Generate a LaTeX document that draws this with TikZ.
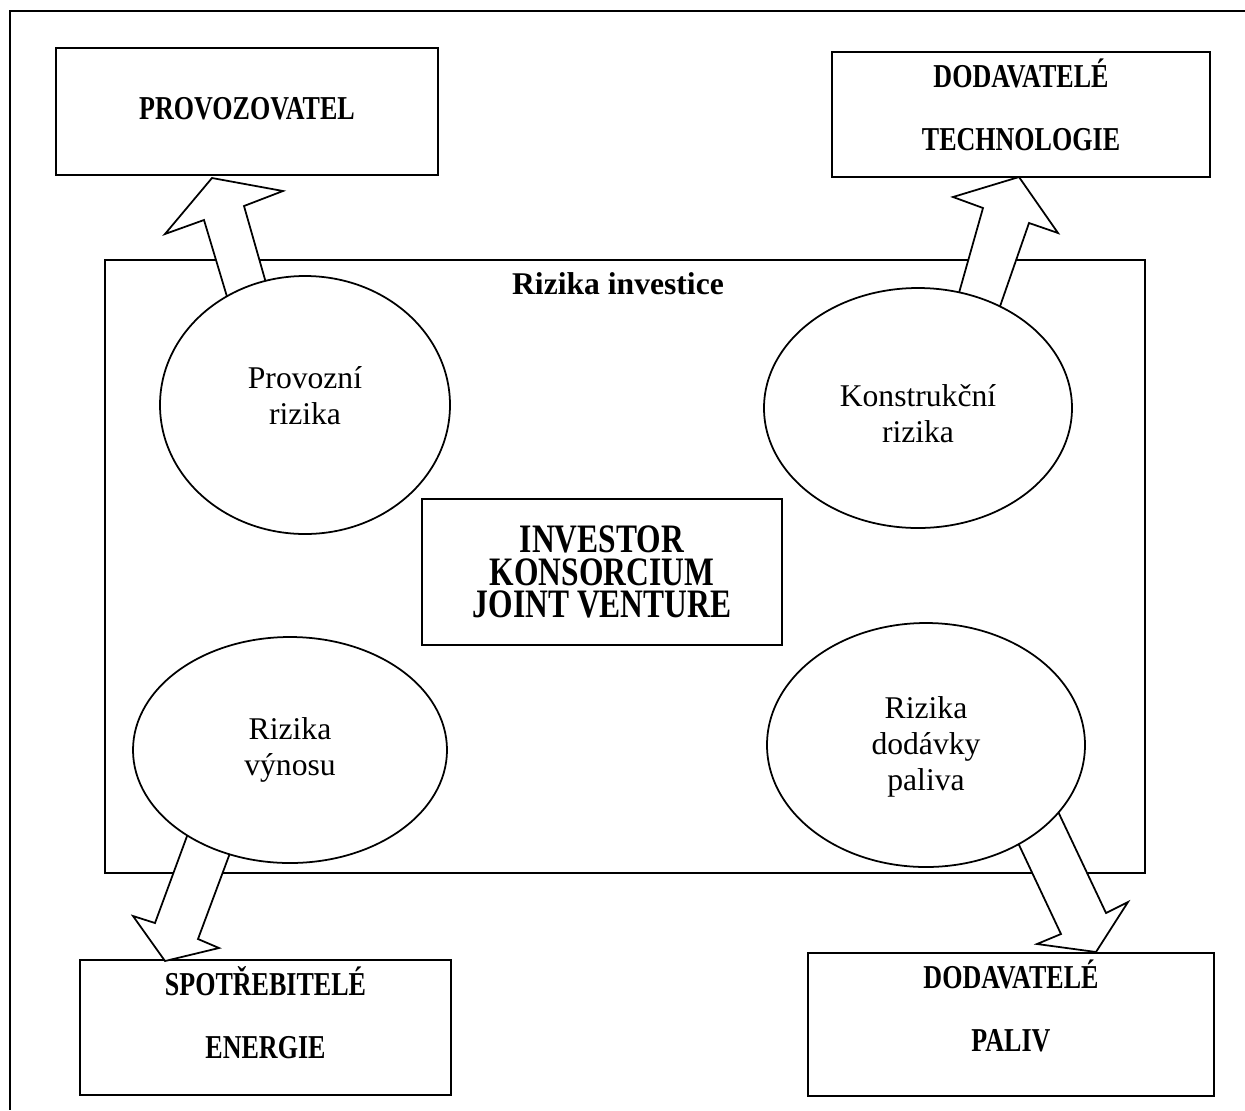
\documentclass[tikz,border=0pt]{standalone}
\usepackage{fontspec}
\usetikzlibrary{shapes.geometric}
\setmainfont{Liberation Serif}
\newfontfamily\capsfont{Liberation Serif}[FakeStretch=0.78]

\tikzset{
  party/.style={draw, line width=1pt, inner sep=0pt},
  partytext/.style={anchor=base, inner sep=0pt,
    font=\capsfont\bfseries\fontsize{19}{22}\selectfont},
  risk/.style={draw, ellipse, line width=1pt, fill=white, inner sep=0pt},
  risktext/.style={align=center, inner sep=0pt, font=\fontsize{18}{20.4}\selectfont},
  fatarrow/.style={draw, fill=white, line width=1pt, line join=miter}
}

\begin{document}
\begin{tikzpicture}[x=0.02cm, y=-0.02cm]
\useasboundingbox (0,0) rectangle (1245,1110);
% outer frame
\draw[line width=1.2pt] (1245,11) -- (10,11) -- (10,1110);

% parties
\node[party, minimum width=382*0.02cm, minimum height=127*0.02cm] (provoz) at (247,111.5) {};
\node[partytext] (provozT) at (247,119) {PROVOZOVATEL};
\node[party, minimum width=378*0.02cm, minimum height=125*0.02cm] (tech) at (1021,114.5) {};
\node[partytext] (techT1) at (1021,87) {DODAVATELÉ};
\node[partytext] (techT2) at (1021,150) {TECHNOLOGIE};
\node[party, minimum width=371*0.02cm, minimum height=135*0.02cm] (spotr) at (265.5,1027.5) {};
\node[partytext] (spotrT1) at (265.5,995) {SPOTŘEBITELÉ};
\node[partytext] (spotrT2) at (265.5,1058) {ENERGIE};
\node[party, minimum width=406*0.02cm, minimum height=143*0.02cm] (paliv) at (1011,1024.5) {};
\node[partytext] (palivT1) at (1011,988) {DODAVATELÉ};
\node[partytext] (palivT2) at (1011,1051) {PALIV};

% risks of the investment
\node[draw, line width=1pt, minimum width=1040*0.02cm, minimum height=613*0.02cm] (invest) at (625,566.5) {};
\node[font=\bfseries\fontsize{18}{20}\selectfont, inner sep=0pt] (title) at (618,284) {Rizika investice};

\node[draw, line width=1pt, minimum width=360*0.02cm, minimum height=146*0.02cm,
  font=\capsfont\bfseries\fontsize{23}{18.5}\selectfont, align=center] (inv) at (602,572)
  {INVESTOR\\KONSORCIUM\\JOINT VENTURE};

% block arrows
\draw[fatarrow] (228,300) -- (204,220) -- (165,234) -- (212,178) -- (283,191) -- (244,206) -- (268,290) -- cycle;
\draw[fatarrow] (957,300) -- (983,208) -- (953,197) -- (1019,177) -- (1058,233) -- (1029,223) -- (997,315) -- cycle;
\draw[fatarrow] (190,828) -- (155,923) -- (133,916) -- (165,961) -- (219,948) -- (198,939) -- (233,845) -- cycle;
\draw[fatarrow] (1012,830) -- (1061,934) -- (1037,944) -- (1096,952) -- (1128,902) -- (1106,913) -- (1054,803) -- cycle;

% risks
\node[risk, minimum width=290*0.02cm, minimum height=258*0.02cm] (provozni) at (305,405) {};
\node[risktext] (provozniT) at (305,396) {Provozní\\rizika};
\node[risk, minimum width=308*0.02cm, minimum height=240*0.02cm] (konstr) at (918,408) {};
\node[risktext] (konstrT) at (918,414) {Konstrukční\\rizika};
\node[risk, minimum width=314*0.02cm, minimum height=226*0.02cm] (vynos) at (290,750) {};
\node[risktext] (vynosT) at (290,750) {Rizika\\výnosu};
\node[risk, minimum width=318*0.02cm, minimum height=244*0.02cm] (palivo) at (926,745) {};
\node[risktext] (palivoT) at (926,747) {Rizika\\dodávky\\paliva};
\end{tikzpicture}
\end{document}
